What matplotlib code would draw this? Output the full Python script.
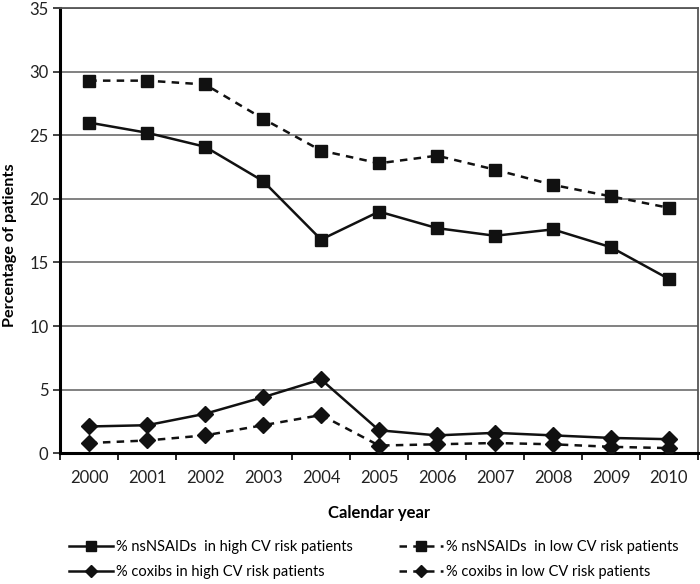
import numpy as np
import matplotlib
matplotlib.use('Agg')
import matplotlib.pyplot as plt
from matplotlib.ticker import FixedLocator

plt.rcParams['font.family'] = ['Lato', 'DejaVu Sans']

# Data
years = ['2000', '2001', '2002', '2003', '2004', '2005', '2006', '2007', '2008', '2009', '2010']
ns_high = [26.0, 25.2, 24.1, 21.4, 16.8, 19.0, 17.7, 17.1, 17.6, 16.2, 13.7]
ns_low = [29.3, 29.3, 29.0, 26.3, 23.8, 22.8, 23.4, 22.3, 21.1, 20.2, 19.3]
cox_high = [2.1, 2.2, 3.1, 4.4, 5.8, 1.8, 1.4, 1.6, 1.4, 1.2, 1.1]
cox_low = [0.8, 1.0, 1.4, 2.2, 3.0, 0.6, 0.7, 0.8, 0.7, 0.5, 0.4]
y_ticks = [0, 5, 10, 15, 20, 25, 30, 35]

fig = plt.figure(figsize=(7, 5.84), dpi=100)
ax = fig.add_axes([0.086, 0.224, 0.911, 0.762])
x = np.arange(len(years))

dash = (0, (3, 2.5))
h1, = ax.plot(x, ns_high, color='#111111', lw=1.8, marker='s', ms=9,
              label='% nsNSAIDs  in high CV risk patients', zorder=3)
h2, = ax.plot(x, ns_low, color='#111111', lw=1.8, ls=dash, marker='s', ms=9,
              label='% nsNSAIDs  in low CV risk patients', zorder=3)
h3, = ax.plot(x, cox_high, color='#111111', lw=1.8, marker='D', ms=8,
              label='% coxibs in high CV risk patients', zorder=3)
h4, = ax.plot(x, cox_low, color='#111111', lw=1.8, ls=dash, marker='D', ms=8,
              label='% coxibs in low CV risk patients', zorder=3)

ax.set_xlim(-0.5, len(years) - 0.5)
ax.set_ylim(0, 35)
ax.set_yticks(y_ticks)
ax.set_xticks(x)
ax.set_xticklabels(years)
ax.xaxis.set_minor_locator(FixedLocator(np.arange(-0.5, len(years), 1.0)))
ax.tick_params(axis='x', which='major', length=0, pad=12, labelsize=12, colors='#222222')
ax.tick_params(axis='x', which='minor', length=5, width=1.2, direction='out')
ax.tick_params(axis='y', length=5, width=1.2, labelsize=12, colors='#222222')
ax.yaxis.grid(True, color='#777777', lw=1.3)
ax.set_axisbelow(True)
for s in ['left', 'bottom']:
    ax.spines[s].set_linewidth(2.2)
for s in ['top', 'right']:
    ax.spines[s].set_linewidth(1.3)
    ax.spines[s].set_color('#555555')

ax.set_ylabel('Percentage of patients', fontsize=11.7, fontweight='bold')
ax.yaxis.set_label_coords(-0.068, 0.467)
ax.set_xlabel('Calendar year', fontsize=12, fontweight='bold', labelpad=14)

# legend fills column by column: order so rows read high/low pairs
leg = fig.legend([h1, h3, h2, h4], [h.get_label() for h in [h1, h3, h2, h4]],
                 loc='lower center', bbox_to_anchor=(0.534, -0.014), ncol=2, frameon=False,
                 fontsize=10.5, handlelength=3.0, handletextpad=0.2, columnspacing=3.2,
                 labelspacing=0.75, markerscale=0.75)

fig.savefig('out.png', dpi=100)
